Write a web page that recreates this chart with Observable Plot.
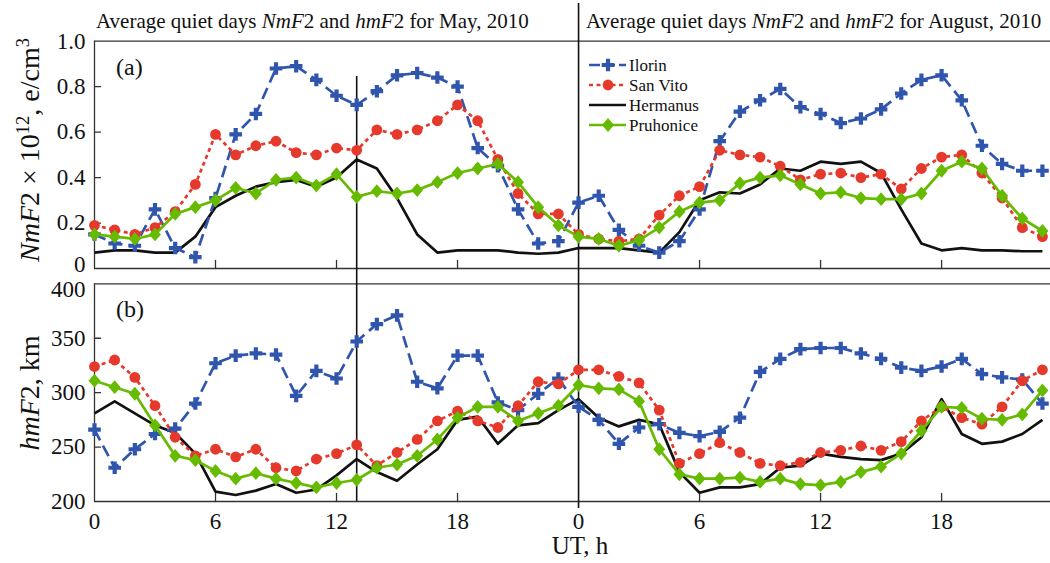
<!DOCTYPE html>
<html><head><meta charset="utf-8">
<script src="https://cdn.jsdelivr.net/npm/d3@7"></script>
<script src="https://cdn.jsdelivr.net/npm/@observablehq/plot@0.6"></script>
<style>
body{margin:0;background:#fff;}
#chart{position:relative;width:1050px;height:563px;font-family:"Liberation Serif","Times New Roman",serif;color:#111;overflow:hidden;}
#chart > svg{position:absolute;left:0;}
</style></head><body><div id="chart"></div>
<script>
// ---------- data ----------
const hours = [0,1,2,3,4,5,6,7,8,9,10,11,12,13,14,15,16,17,18,19,20,21,22,23];
const months = ["May", "August"];
const stations = ["Ilorin", "San Vito", "Hermanus", "Pruhonice"];

// NmF2 (x 10^12 e/cm^3)
const nmMayIlorin    = [0.15,0.11,0.10,0.26,0.09,0.05,0.31,0.59,0.68,0.88,0.89,0.83,0.76,0.72,0.78,0.85,0.86,0.84,0.80,0.53,0.45,0.26,0.11,0.12];
const nmMaySanVito   = [0.19,0.17,0.15,0.18,0.25,0.37,0.59,0.50,0.54,0.56,0.51,0.50,0.53,0.52,0.61,0.59,0.61,0.65,0.72,0.65,0.48,0.33,0.24,0.24];
const nmMayHermanus  = [0.07,0.08,0.08,0.07,0.07,0.14,0.27,0.32,0.36,0.38,0.39,0.36,0.40,0.48,0.44,0.31,0.15,0.07,0.08,0.08,0.08,0.07,0.065,0.07];
const nmMayPruhonice = [0.15,0.14,0.13,0.15,0.24,0.27,0.30,0.355,0.33,0.39,0.40,0.365,0.415,0.315,0.34,0.33,0.345,0.38,0.42,0.44,0.46,0.38,0.27,0.19];
const nmAugIlorin    = [0.29,0.32,0.17,0.10,0.07,0.12,0.26,0.56,0.69,0.74,0.79,0.71,0.68,0.64,0.66,0.70,0.77,0.83,0.85,0.74,0.54,0.46,0.43,0.43];
const nmAugSanVito   = [0.15,0.13,0.12,0.13,0.235,0.32,0.36,0.52,0.50,0.49,0.45,0.39,0.415,0.42,0.40,0.415,0.35,0.44,0.49,0.50,0.42,0.31,0.18,0.14];
const nmAugHermanus  = [0.09,0.09,0.09,0.08,0.07,0.16,0.30,0.335,0.33,0.37,0.44,0.43,0.47,0.46,0.47,0.42,0.26,0.11,0.08,0.09,0.08,0.08,0.076,0.076];
const nmAugPruhonice = [0.14,0.13,0.10,0.125,0.18,0.25,0.29,0.30,0.375,0.40,0.41,0.37,0.33,0.335,0.31,0.305,0.305,0.33,0.43,0.47,0.44,0.32,0.22,0.165];

// hmF2 (km)
const hmMayIlorin    = [266,231,248,262,267,290,327,334,336,335,297,320,313,347,363,371,310,304,334,334,291,284,299,313];
const hmMaySanVito   = [324,330,314,288,259,242,248,241,248,231,228,239,244,252,233,245,257,274,283,274,268,288,310,308];
const hmMayHermanus  = [281,292,281,270,263,244,209,206,210,216,208,211,224,239,227,219,234,248,275,278,253,270,272,284];
const hmMayPruhonice = [311,305,299,270,242,238,228,221,226,221,217,213,217,220,231,234,242,257,277,287,287,274,281,288];
const hmAugIlorin    = [287,275,253,268,271,263,260,264,277,319,331,340,341,341,336,331,323,320,324,331,317,314,312,290];
const hmAugSanVito   = [321,321,315,309,284,235,244,254,245,235,233,236,245,247,251,247,255,274,287,277,271,287,311,321];
const hmAugHermanus  = [294,277,269,275,271,227,208,213,213,216,231,233,244,241,239,238,244,259,294,262,253,255,262,275];
const hmAugPruhonice = [307,304,303,292,248,225,221,221,222,218,221,216,215,218,227,232,244,265,287,286,276,275,280,302];

// axes
const xTicks = [0,6,12,18,24,30,36,42];
const xInnerTicks = [6,12,18,30,36,42];
const xDomain = [0, 47.4];
const nmTicks = [0,0.2,0.4,0.6,0.8,1.0];
const nmDomain = [0,1];
const hmTicks = [200,250,300,350,400];
const hmDomain = [200,400];
const eventHour = [13];
const monthBoundary = [24];

// ---------- build table ----------
const nmSeries = {Ilorin:[nmMayIlorin,nmAugIlorin],"San Vito":[nmMaySanVito,nmAugSanVito],Hermanus:[nmMayHermanus,nmAugHermanus],Pruhonice:[nmMayPruhonice,nmAugPruhonice]};
const hmSeries = {Ilorin:[hmMayIlorin,hmAugIlorin],"San Vito":[hmMaySanVito,hmAugSanVito],Hermanus:[hmMayHermanus,hmAugHermanus],Pruhonice:[hmMayPruhonice,hmAugPruhonice]};
const rows = [];
for (const s of stations) months.forEach((m, mi) => hours.forEach((h, i) => {
  rows.push({station: s, month: m, t: mi * 24 + h, nmf2: nmSeries[s][mi][i], hmf2: hmSeries[s][mi][i]});
}));

// ---------- styles ----------
const diamondSym = {draw(ctx, size){ const r = Math.sqrt(size / Math.PI); ctx.moveTo(0,-1.15*r); ctx.lineTo(r,0); ctx.lineTo(0,1.15*r); ctx.lineTo(-r,0); ctx.closePath(); }};
const styles = {
  "Hermanus":  {color:"#111111", dash:null, symbol:null},
  "Ilorin":    {color:"#2f55ad", dash:"12,6", symbol:"cross", r:5.3},
  "San Vito":  {color:"#e5392b", dash:"4,3.5", symbol:"circle", r:5.4},
  "Pruhonice": {color:"#66bb00", dash:null, symbol:diamondSym, r:6}
};
const drawOrder = ["Hermanus","Ilorin","San Vito","Pruhonice"];
const frameColor = "#333";
const tickShapeUp = {draw(ctx, l){ ctx.moveTo(0,0); ctx.lineTo(0,-l); }};
const font = "Liberation Serif, Times New Roman, serif";

function seriesMarks(field) {
  const out = [];
  for (const s of drawOrder) {
    const st = styles[s];
    out.push(Plot.line(rows.filter(d => d.station === s), {x:"t", y:field, stroke:st.color, strokeWidth:2.7, strokeDasharray:st.dash, strokeLinecap:"butt", strokeLinejoin:"round"}));
    if (st.symbol) out.push(Plot.dot(rows.filter(d => d.station === s), {x:"t", y:field, symbol:st.symbol, r:st.r, fill:st.color, stroke:"none"}));
  }
  return out;
}

// ---------- top panel (NmF2) ----------
const nmFmt = d => d === 0 ? "0" : d.toFixed(1);
const topPlot = Plot.plot({
  width:1050, height:268, marginLeft:94, marginRight:0, marginTop:40.7, marginBottom:0,
  x:{domain:xDomain, axis:null},
  y:{domain:nmDomain},
  style:{fontFamily:font, background:"transparent", overflow:"visible", color:"#111"},
  marks:[
    Plot.ruleY([nmDomain[1]], {stroke:frameColor, strokeWidth:1.3}),
    Plot.ruleY([nmDomain[0]], {stroke:frameColor, strokeWidth:1.3}),
    Plot.ruleX([xDomain[0]], {stroke:frameColor, strokeWidth:1.3}),
    Plot.vector(xInnerTicks, {x:d=>d, y:nmDomain[0], length:8, rotate:0, anchor:"start", shape:tickShapeUp, stroke:frameColor, strokeWidth:1.3}),
    Plot.vector(nmTicks.slice(1,-1), {x:xDomain[0], y:d=>d, length:6, rotate:90, anchor:"start", shape:tickShapeUp, stroke:frameColor, strokeWidth:1.3}),
    Plot.ruleX(monthBoundary, {stroke:"#111", strokeWidth:1.6, insetTop:-37.7}),
    Plot.ruleX(eventHour, {stroke:"#111", strokeWidth:1.6, insetTop:35.3}),
    ...seriesMarks("nmf2"),
    Plot.axisY({ticks:nmTicks.slice(1), tickSize:0, tickPadding:9, fontSize:23, tickFormat:nmFmt, label:null}),
    Plot.axisY({ticks:nmTicks.slice(0,1), tickSize:0, tickPadding:9, fontSize:23, dy:-4, tickFormat:nmFmt, label:null})
  ]
});
topPlot.style.top = "0px";

// ---------- bottom panel (hmF2) ----------
const botPlot = Plot.plot({
  width:1050, height:295, marginLeft:94, marginRight:0, marginTop:15.3, marginBottom:62,
  x:{domain:xDomain},
  y:{domain:hmDomain},
  style:{fontFamily:font, background:"transparent", overflow:"visible", color:"#111"},
  marks:[
    Plot.ruleY([hmDomain[1]], {stroke:frameColor, strokeWidth:1.3}),
    Plot.ruleY([hmDomain[0]], {stroke:frameColor, strokeWidth:1.3}),
    Plot.ruleX([xDomain[0]], {stroke:frameColor, strokeWidth:1.3}),
    Plot.vector(xInnerTicks, {x:d=>d, y:hmDomain[0], length:8, rotate:0, anchor:"start", shape:tickShapeUp, stroke:frameColor, strokeWidth:1.3}),
    Plot.vector(hmTicks.slice(1,-1), {x:xDomain[0], y:d=>d, length:6, rotate:90, anchor:"start", shape:tickShapeUp, stroke:frameColor, strokeWidth:1.3}),
    Plot.ruleX(monthBoundary, {stroke:"#111", strokeWidth:1.6, insetTop:-15.3, insetBottom:-7}),
    Plot.ruleX(eventHour, {stroke:"#111", strokeWidth:1.6, insetTop:-15.3}),
    ...seriesMarks("hmf2"),
    Plot.axisY({ticks:hmTicks.slice(0,-1), tickSize:0, tickPadding:9, fontSize:23, label:null}),
    Plot.axisY({ticks:hmTicks.slice(-1), tickSize:0, tickPadding:9, fontSize:23, dy:6, label:null}),
    Plot.axisX({ticks:xTicks, tickSize:0, tickPadding:11, fontSize:23, tickFormat:d => String(d % 24), label:null})
  ]
});
botPlot.style.top = "268px";

const chart = document.getElementById("chart");
chart.append(topPlot, botPlot);

// ---------- overlay text & legend ----------
const ov = d3.select(chart).append("svg")
  .attr("width",1050).attr("height",563)
  .style("position","absolute").style("left","0px").style("top","0px")
  .style("font-family", font).style("fill","#111");

function richText(g, parts) {
  for (const p of parts) {
    const ts = g.append("tspan").text(p.t);
    if (p.i) ts.style("font-style","italic");
    if (p.sup) ts.attr("baseline-shift","super").style("font-size","0.66em");
  }
}
const titleParts = m => [{t:"Average quiet days "},{t:"NmF",i:1},{t:"2 and "},{t:"hmF",i:1},{t:`2 for ${m}, 2010`}];
richText(ov.append("text").attr("x",96).attr("y",28).style("font-size","21px"), titleParts("May"));
richText(ov.append("text").attr("x",586).attr("y",28).style("font-size","21px"), titleParts("August"));

richText(ov.append("text").attr("transform","translate(39,150) rotate(-90)").attr("text-anchor","middle").style("font-size","28px"),
  [{t:"NmF",i:1},{t:"2 × 10"},{t:"12",sup:1},{t:", e/cm"},{t:"3",sup:1}]);
richText(ov.append("text").attr("transform","translate(39,393) rotate(-90)").attr("text-anchor","middle").style("font-size","28px"),
  [{t:"hmF",i:1},{t:"2, km"}]);

ov.append("text").attr("x",116).attr("y",75).style("font-size","24px").text("(a)");
ov.append("text").attr("x",116).attr("y",317).style("font-size","24px").text("(b)");
ov.append("text").attr("x",580).attr("y",554).attr("text-anchor","middle").style("font-size","25px").text("UT, h");

// legend
const legendStations = ["Ilorin","San Vito","Hermanus","Pruhonice"];
legendStations.forEach((s, i) => {
  const st = styles[s];
  const y = 65 + i * 20;
  ov.append("line").attr("x1",589).attr("x2",626).attr("y1",y).attr("y2",y)
    .attr("stroke",st.color).attr("stroke-width",2.7).attr("stroke-dasharray", st.dash === "12,6" ? "11,4" : st.dash);
  if (st.symbol) {
    const sym = st.symbol === "cross" ? d3.symbolCross : st.symbol === "circle" ? d3.symbolCircle : st.symbol;
    ov.append("path").attr("transform",`translate(608,${y})`).attr("fill",st.color)
      .attr("d", d3.symbol(sym, Math.PI * st.r * st.r)());
  }
  ov.append("text").attr("x",629).attr("y",y + 6).style("font-size","17px").text(s);
});
</script>
</body></html>
